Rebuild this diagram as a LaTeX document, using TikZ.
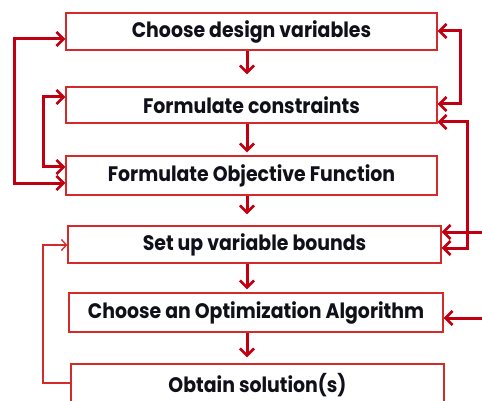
\documentclass[tikz,border=0pt]{standalone}
\usepackage{fontspec}
\setmainfont{Poppins}[FakeStretch=0.9]
\usetikzlibrary{arrows.meta}
\definecolor{boxred}{HTML}{D42A2A}
\definecolor{linkred}{HTML}{C00010}
\definecolor{inkdark}{HTML}{10101A}
\tikzset{
  barb/.tip={Straight Barb[length=7pt, width=14pt, line width=2.6pt]},
  stepbox/.style={draw=boxred, line width=1.4pt, fill=white, inner sep=0pt,
    text=inkdark, font=\fontsize{21}{24}\selectfont\bfseries},
  link/.style={draw=linkred, line width=3pt, arrows={-barb}},
  bothlink/.style={link, arrows={barb-barb}},
  thinlink/.style={draw=boxred, line width=1.3pt,
    arrows={-Straight Barb[length=5pt, width=11pt, line width=1.3pt]}},
}
\begin{document}
\begin{tikzpicture}[x=1pt, y=-1pt]
\useasboundingbox (0,0) rectangle (482,401);
\clip (0,0) rectangle (482,401);

% process steps
\node[stepbox, minimum width=371pt, minimum height=37pt] (b1) at (251.5,31.5) {Choose design variables};
\node[stepbox, minimum width=371pt, minimum height=36pt] (b2) at (251.5,105) {Formulate constraints};
\node[stepbox, minimum width=371pt, minimum height=39pt] (b3) at (251.5,175.5) {Formulate Objective Function};
\node[stepbox, minimum width=373pt, minimum height=37pt] (b4) at (254.5,244.5) {Set up variable bounds};
\node[stepbox, minimum width=374pt, minimum height=39pt] (b5) at (256,312.5) {Choose an Optimization Algorithm};
\node[stepbox, minimum width=373pt, minimum height=42pt] (b6) at (257.5,385) {Obtain solution(s)};

% main flow
\coordinate (spine) at (247,0);
\draw[link, shorten >=12pt] (b1.south -| spine) -- (b2.north -| spine);
\draw[link, shorten >=3pt] (b2.south -| spine) -- (b3.north -| spine);
\draw[link, shorten >=11pt] (b3.south -| spine) -- (b4.north -| spine);
\draw[link, shorten >=3pt] (b4.south -| spine) -- (b5.north -| spine);
\draw[link, shorten >=6pt] (b5.south -| spine) -- (b6.north -| spine);

% left feedback loops
\coordinate (o1) at (14,39);
\coordinate (o2) at (14,183);
\coordinate (i1) at (43,97);
\coordinate (i2) at (43,167);
\draw[bothlink] (b1.west |- o1) -- (o1) -- (o2) -- (b3.west |- o2);
\draw[bothlink] (b2.west |- i1) -- (i1) -- (i2) -- (b3.west |- i2);

% right feedback loops
\coordinate (r1) at (460,31);
\coordinate (r2) at (460,104);
\coordinate (r3) at (467,122);
\coordinate (r4) at (467,248);
\draw[bothlink] (b1.east |- r1) -- (r1) -- (r2) -- (b2.east |- r2);
\draw[bothlink] (b2.east |- r3) -- (r3) -- (r4) -- (b4.east |- r4);

% inputs from the right
\coordinate (in1) at (484,232);
\coordinate (in2) at (484,318);
\draw[link] (in1) -- (b4.east |- in1);
\draw[link] (in2) -- (b5.east |- in2);

% iteration back to the bounds
\coordinate (t1) at (43,245);
\coordinate (t2) at (43,383);
\draw[thinlink] (b6.west |- t2) -- (t2) -- (t1) -- (b4.west |- t1);
\end{tikzpicture}
\end{document}
